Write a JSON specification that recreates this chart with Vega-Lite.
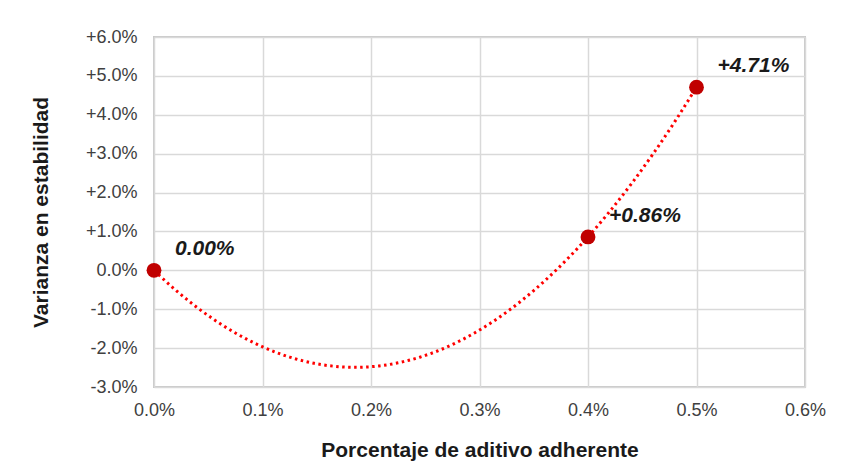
{
  "$schema": "https://vega.github.io/schema/vega-lite/v6.json",
  "width": 651,
  "height": 350,
  "autosize": {"type": "none"},
  "padding": {"left": 154, "top": 37, "right": 40, "bottom": 79},
  "background": "white",
  "config": {
    "font": "Liberation Sans",
    "view": {"stroke": "#c8c8c8", "strokeWidth": 2},
    "axis": {
      "gridColor": "#d9d9d9",
      "gridWidth": 1.5,
      "domain": false,
      "ticks": false,
      "labelFlush": false,
      "labelFont": "Liberation Sans",
      "labelFontSize": 18,
      "labelColor": "#404040",
      "titleFont": "Liberation Sans",
      "titleFontSize": 21,
      "titleFontWeight": "bold",
      "titleColor": "#1a1a1a"
    }
  },
  "data": {
    "values": [
      {"x": 0, "y": 0, "label": "0.00%"},
      {"x": 0.004, "y": 0.0086, "label": "+0.86%"},
      {"x": 0.005, "y": 0.0471, "label": "+4.71%"}
    ]
  },
  "encoding": {
    "x": {
      "field": "x",
      "type": "quantitative",
      "scale": {"domain": [0, 0.006], "nice": false, "zero": false},
      "axis": {
        "title": "Porcentaje de aditivo adherente",
        "values": [0, 0.001, 0.002, 0.003, 0.004, 0.005, 0.006],
        "format": ".1%",
        "labelPadding": 14,
        "titlePadding": 20
      }
    },
    "y": {
      "field": "y",
      "type": "quantitative",
      "scale": {"domain": [-0.03, 0.06], "nice": false},
      "axis": {
        "title": "Varianza en estabilidad",
        "values": [-0.03, -0.02, -0.01, 0, 0.01, 0.02, 0.03, 0.04, 0.05, 0.06],
        "labelExpr": "datum.value > 0.00001 ? '+' + format(datum.value, '.1%') : replace(format(datum.value, '.1%'), '\u2212', '-')",
        "labelPadding": 17,
        "titlePadding": 34
      }
    }
  },
  "layer": [
    {
      "transform": [
        {"regression": "y", "on": "x", "method": "poly", "order": 2, "extent": [0, 0.005]}
      ],
      "mark": {"type": "line", "color": "#ff0000", "strokeWidth": 3, "strokeDash": [2.5, 3.5], "interpolate": "monotone"},
      "encoding": {}
    },
    {
      "mark": {"type": "circle", "color": "#c00000", "opacity": 1, "size": 220},
      "encoding": {}
    },
    {
      "mark": {"type": "text", "align": "left", "baseline": "middle", "dx": 21, "dy": -21, "fontSize": 21, "fontWeight": "bold", "fontStyle": "italic", "color": "#1a1a1a", "font": "Liberation Sans"},
      "encoding": {"text": {"field": "label"}}
    }
  ]
}
